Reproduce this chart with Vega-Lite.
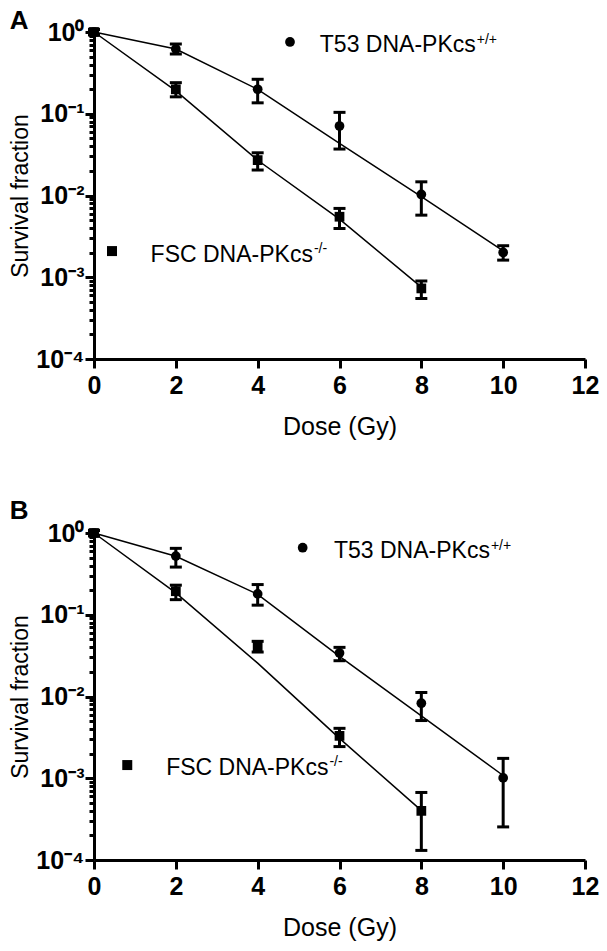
{
  "$schema": "https://vega.github.io/schema/vega-lite/v6.json",
  "padding": {"left": 9, "top": 8, "right": 5, "bottom": 5},
  "spacing": 59,
  "datasets": {
    "pointsA": [
      {"cell": "T53", "dose": 0, "sf": 1.0, "lo": 0.93, "hi": 1.07},
      {"cell": "T53", "dose": 2, "sf": 0.62, "lo": 0.538, "hi": 0.713},
      {"cell": "T53", "dose": 4, "sf": 0.199, "lo": 0.136, "hi": 0.264},
      {"cell": "T53", "dose": 6, "sf": 0.0707, "lo": 0.037, "hi": 0.104},
      {"cell": "T53", "dose": 8, "sf": 0.0103, "lo": 0.00575, "hi": 0.0147},
      {"cell": "T53", "dose": 10, "sf": 0.00201, "lo": 0.00162, "hi": 0.00243},
      {"cell": "FSC", "dose": 0, "sf": 1.0, "lo": 0.92, "hi": 1.08},
      {"cell": "FSC", "dose": 2, "sf": 0.199, "lo": 0.161, "hi": 0.24},
      {"cell": "FSC", "dose": 4, "sf": 0.0271, "lo": 0.0205, "hi": 0.0333},
      {"cell": "FSC", "dose": 6, "sf": 0.0055, "lo": 0.00395, "hi": 0.00695},
      {"cell": "FSC", "dose": 8, "sf": 0.00073, "lo": 0.00055, "hi": 0.0009}
    ],
    "fitA": [
      {"cell": "T53", "dose": 0, "sf": 1.0},
      {"cell": "T53", "dose": 2, "sf": 0.62},
      {"cell": "T53", "dose": 4, "sf": 0.199},
      {"cell": "T53", "dose": 6, "sf": 0.0434},
      {"cell": "T53", "dose": 8, "sf": 0.00966},
      {"cell": "T53", "dose": 10, "sf": 0.0021},
      {"cell": "FSC", "dose": 0, "sf": 1.0},
      {"cell": "FSC", "dose": 2, "sf": 0.19},
      {"cell": "FSC", "dose": 4, "sf": 0.027},
      {"cell": "FSC", "dose": 6, "sf": 0.00514},
      {"cell": "FSC", "dose": 8, "sf": 0.000757}
    ],
    "pointsB": [
      {"cell": "T53", "dose": 0, "sf": 1.0, "lo": 0.93, "hi": 1.07},
      {"cell": "T53", "dose": 2, "sf": 0.522, "lo": 0.383, "hi": 0.649},
      {"cell": "T53", "dose": 4, "sf": 0.18, "lo": 0.131, "hi": 0.234},
      {"cell": "T53", "dose": 6, "sf": 0.034, "lo": 0.0274, "hi": 0.0399},
      {"cell": "T53", "dose": 8, "sf": 0.00828, "lo": 0.00508, "hi": 0.0112},
      {"cell": "T53", "dose": 10, "sf": 0.00101, "lo": 0.000254, "hi": 0.00175},
      {"cell": "FSC", "dose": 0, "sf": 1.0, "lo": 0.92, "hi": 1.08},
      {"cell": "FSC", "dose": 2, "sf": 0.194, "lo": 0.153, "hi": 0.23},
      {"cell": "FSC", "dose": 4, "sf": 0.041, "lo": 0.035, "hi": 0.0473},
      {"cell": "FSC", "dose": 6, "sf": 0.0033, "lo": 0.00244, "hi": 0.00408},
      {"cell": "FSC", "dose": 8, "sf": 0.000399, "lo": 0.000131, "hi": 0.00067}
    ],
    "fitB": [
      {"cell": "T53", "dose": 0, "sf": 1.0},
      {"cell": "T53", "dose": 2, "sf": 0.52},
      {"cell": "T53", "dose": 4, "sf": 0.178},
      {"cell": "T53", "dose": 6, "sf": 0.031},
      {"cell": "T53", "dose": 8, "sf": 0.0058},
      {"cell": "T53", "dose": 10, "sf": 0.00108},
      {"cell": "FSC", "dose": 0, "sf": 1.0},
      {"cell": "FSC", "dose": 2, "sf": 0.185},
      {"cell": "FSC", "dose": 4, "sf": 0.0256},
      {"cell": "FSC", "dose": 6, "sf": 0.00307},
      {"cell": "FSC", "dose": 7.9, "sf": 0.000447}
    ]
  },
  "vconcat": [
    {
      "title": {"text": "A", "anchor": "start", "frame": "bounds", "fontSize": 26, "fontWeight": "bold", "font": "Liberation Sans", "color": "black", "offset": -14},
      "width": 491,
      "height": 327,
      "layer": [
        {
          "data": {"name": "fitA"},
          "mark": {"type": "line", "color": "black", "strokeWidth": 1.5, "clip": false},
          "encoding": {
            "x": {"field": "dose", "type": "quantitative", "title": "Dose (Gy)", "scale": {"domain": [0, 12], "nice": false}, "axis": {"values": [0, 2, 4, 6, 8, 10, 12], "format": "d"}},
            "y": {"field": "sf", "type": "quantitative", "title": "Survival fraction", "scale": {"type": "log", "domain": [0.0001, 1], "nice": false},
              "axis": {
                "values": [0.0001, 0.0002, 0.0003, 0.0004, 0.0005, 0.0006, 0.0007, 0.0008, 0.0009, 0.001, 0.002, 0.003, 0.004, 0.005, 0.006, 0.007, 0.008, 0.009, 0.01, 0.02, 0.03, 0.04, 0.05, 0.06, 0.07, 0.08, 0.09, 0.1, 0.2, 0.3, 0.4, 0.5, 0.6, 0.7, 0.8, 0.9, 1],
                "labelExpr": "abs(log(datum.value)/LN10 - round(log(datum.value)/LN10)) < 1e-6 ? '10' + ['⁰','⁻¹','⁻²','⁻³','⁻⁴'][-round(log(datum.value)/LN10)] : ''",
                "tickSize": {"condition": {"test": "abs(log(datum.value)/LN10 - round(log(datum.value)/LN10)) < 1e-6", "value": 9}, "value": 5}
              }},
            "detail": {"field": "cell"}
          }
        },
        {
          "data": {"name": "pointsA"},
          "mark": {"type": "errorbar", "color": "black", "ticks": {"size": 12, "thickness": 3, "color": "black", "opacity": 1}, "rule": {"strokeWidth": 3, "color": "black", "opacity": 1}},
          "encoding": {
            "x": {"field": "dose", "type": "quantitative", "title": "Dose (Gy)"},
            "y": {"field": "lo", "type": "quantitative", "title": "Survival fraction"},
            "y2": {"field": "hi"}
          }
        },
        {
          "data": {"name": "pointsA"},
          "mark": {"type": "point", "filled": true, "opacity": 1, "color": "black", "size": 95, "clip": false},
          "encoding": {
            "x": {"field": "dose", "type": "quantitative", "title": "Dose (Gy)"},
            "y": {"field": "sf", "type": "quantitative", "title": "Survival fraction"},
            "shape": {"field": "cell", "type": "nominal", "scale": {"domain": ["T53", "FSC"], "range": ["circle", "square"]}, "legend": null}
          }
        },
        {
          "data": {"values": [{}]},
          "mark": {"type": "point", "shape": "circle", "filled": true, "opacity": 1, "color": "black", "size": 95},
          "encoding": {"x": {"datum": 4.79}, "y": {"datum": 0.755}}
        },
        {
          "data": {"values": [{}]},
          "mark": {"type": "point", "shape": "square", "filled": true, "opacity": 1, "color": "black", "size": 100},
          "encoding": {"x": {"datum": 0.44}, "y": {"datum": 0.00209}}
        },
        {
          "data": {"values": [{}]},
          "mark": {"type": "text", "text": "T53 DNA-PKcs", "align": "right", "baseline": "alphabetic", "font": "Liberation Sans", "fontSize": 23, "color": "black"},
          "encoding": {"x": {"datum": 9.33}, "y": {"datum": 0.569}}
        },
        {
          "data": {"values": [{}]},
          "mark": {"type": "text", "text": "+/+", "align": "left", "baseline": "alphabetic", "font": "Liberation Sans", "fontSize": 14, "color": "black", "dx": 1, "dy": -8},
          "encoding": {"x": {"datum": 9.33}, "y": {"datum": 0.569}}
        },
        {
          "data": {"values": [{}]},
          "mark": {"type": "text", "text": "FSC DNA-PKcs", "align": "right", "baseline": "alphabetic", "font": "Liberation Sans", "fontSize": 23, "color": "black"},
          "encoding": {"x": {"datum": 5.35}, "y": {"datum": 0.00153}}
        },
        {
          "data": {"values": [{}]},
          "mark": {"type": "text", "text": "-/-", "align": "left", "baseline": "alphabetic", "font": "Liberation Sans", "fontSize": 14, "color": "black", "dx": 1, "dy": -9},
          "encoding": {"x": {"datum": 5.35}, "y": {"datum": 0.00153}}
        }
      ]
    },
    {
      "title": {"text": "B", "anchor": "start", "frame": "bounds", "fontSize": 26, "fontWeight": "bold", "font": "Liberation Sans", "color": "black", "offset": -3},
      "width": 491,
      "height": 327,
      "layer": [
        {
          "data": {"name": "fitB"},
          "mark": {"type": "line", "color": "black", "strokeWidth": 1.5, "clip": false},
          "encoding": {
            "x": {"field": "dose", "type": "quantitative", "title": "Dose (Gy)", "scale": {"domain": [0, 12], "nice": false}, "axis": {"values": [0, 2, 4, 6, 8, 10, 12], "format": "d"}},
            "y": {"field": "sf", "type": "quantitative", "title": "Survival fraction", "scale": {"type": "log", "domain": [0.0001, 1], "nice": false},
              "axis": {
                "values": [0.0001, 0.0002, 0.0003, 0.0004, 0.0005, 0.0006, 0.0007, 0.0008, 0.0009, 0.001, 0.002, 0.003, 0.004, 0.005, 0.006, 0.007, 0.008, 0.009, 0.01, 0.02, 0.03, 0.04, 0.05, 0.06, 0.07, 0.08, 0.09, 0.1, 0.2, 0.3, 0.4, 0.5, 0.6, 0.7, 0.8, 0.9, 1],
                "labelExpr": "abs(log(datum.value)/LN10 - round(log(datum.value)/LN10)) < 1e-6 ? '10' + ['⁰','⁻¹','⁻²','⁻³','⁻⁴'][-round(log(datum.value)/LN10)] : ''",
                "tickSize": {"condition": {"test": "abs(log(datum.value)/LN10 - round(log(datum.value)/LN10)) < 1e-6", "value": 9}, "value": 5}
              }},
            "detail": {"field": "cell"}
          }
        },
        {
          "data": {"name": "pointsB"},
          "mark": {"type": "errorbar", "color": "black", "ticks": {"size": 12, "thickness": 3, "color": "black", "opacity": 1}, "rule": {"strokeWidth": 3, "color": "black", "opacity": 1}},
          "encoding": {
            "x": {"field": "dose", "type": "quantitative", "title": "Dose (Gy)"},
            "y": {"field": "lo", "type": "quantitative", "title": "Survival fraction"},
            "y2": {"field": "hi"}
          }
        },
        {
          "data": {"name": "pointsB"},
          "mark": {"type": "point", "filled": true, "opacity": 1, "color": "black", "size": 95, "clip": false},
          "encoding": {
            "x": {"field": "dose", "type": "quantitative", "title": "Dose (Gy)"},
            "y": {"field": "sf", "type": "quantitative", "title": "Survival fraction"},
            "shape": {"field": "cell", "type": "nominal", "scale": {"domain": ["T53", "FSC"], "range": ["circle", "square"]}, "legend": null}
          }
        },
        {
          "data": {"values": [{}]},
          "mark": {"type": "point", "shape": "circle", "filled": true, "opacity": 1, "color": "black", "size": 95},
          "encoding": {"x": {"datum": 5.1}, "y": {"datum": 0.661}}
        },
        {
          "data": {"values": [{}]},
          "mark": {"type": "point", "shape": "square", "filled": true, "opacity": 1, "color": "black", "size": 100},
          "encoding": {"x": {"datum": 0.813}, "y": {"datum": 0.00145}}
        },
        {
          "data": {"values": [{}]},
          "mark": {"type": "text", "text": "T53 DNA-PKcs", "align": "right", "baseline": "alphabetic", "font": "Liberation Sans", "fontSize": 23, "color": "black"},
          "encoding": {"x": {"datum": 9.676}, "y": {"datum": 0.49}}
        },
        {
          "data": {"values": [{}]},
          "mark": {"type": "text", "text": "+/+", "align": "left", "baseline": "alphabetic", "font": "Liberation Sans", "fontSize": 14, "color": "black", "dx": 1, "dy": -8},
          "encoding": {"x": {"datum": 9.676}, "y": {"datum": 0.49}}
        },
        {
          "data": {"values": [{}]},
          "mark": {"type": "text", "text": "FSC DNA-PKcs", "align": "right", "baseline": "alphabetic", "font": "Liberation Sans", "fontSize": 23, "color": "black"},
          "encoding": {"x": {"datum": 5.73}, "y": {"datum": 0.001094}}
        },
        {
          "data": {"values": [{}]},
          "mark": {"type": "text", "text": "-/-", "align": "left", "baseline": "alphabetic", "font": "Liberation Sans", "fontSize": 14, "color": "black", "dx": 1, "dy": -9},
          "encoding": {"x": {"datum": 5.73}, "y": {"datum": 0.001094}}
        }
      ]
    }
  ],
  "config": {
    "view": {"stroke": null},
    "axis": {
      "domainColor": "black", "domainWidth": 3, "tickColor": "black", "tickWidth": 3,
      "labelColor": "black", "titleColor": "black", "grid": false,
      "labelFont": "Liberation Sans", "titleFont": "Liberation Sans",
      "labelFontSize": 25, "labelFontWeight": "bold", "titleFontSize": 24, "titleFontWeight": "normal",
      "labelFlush": false, "labelOverlap": false, "tickSize": 9, "labelPadding": 5
    },
    "axisX": {"titlePadding": 16, "titleFontSize": 25},
    "axisY": {"titlePadding": 3, "titleFontSize": 23, "labelPadding": 1}
  }
}
